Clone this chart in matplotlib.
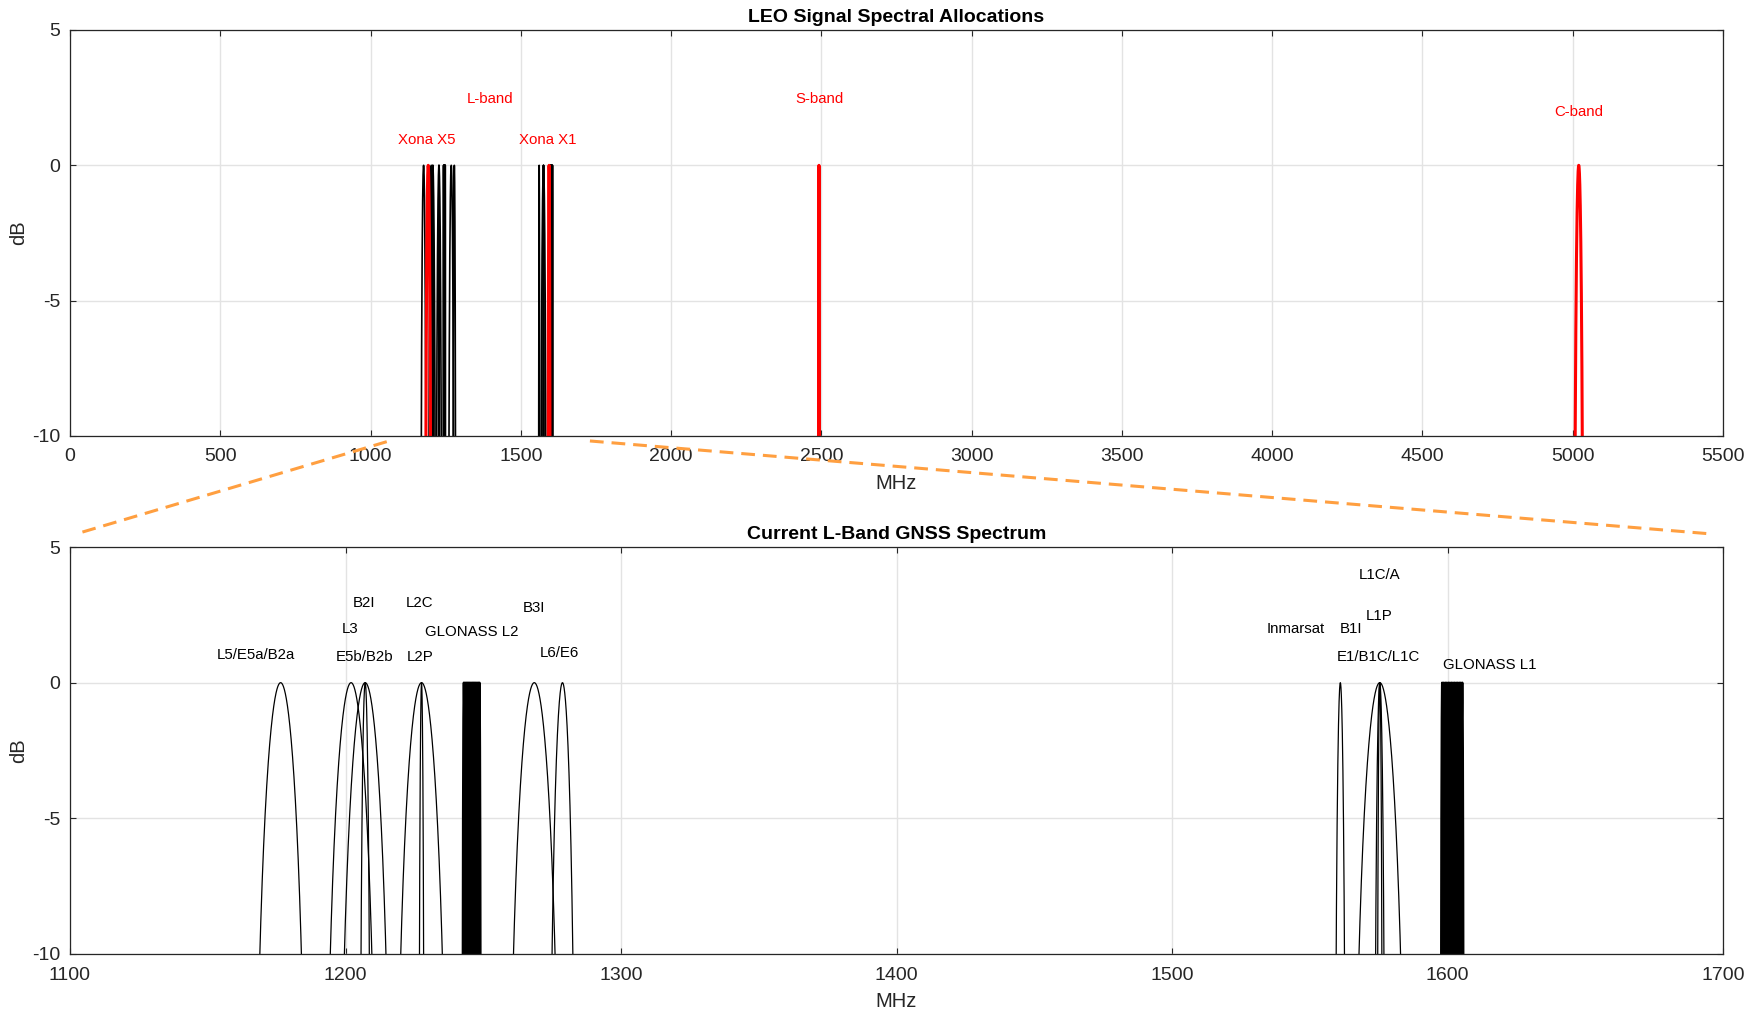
import numpy as np
import matplotlib
matplotlib.use("Agg")
import matplotlib.pyplot as plt
from matplotlib.lines import Line2D

plt.rcParams['font.family'] = ['Liberation Sans', 'DejaVu Sans']
plt.rcParams['axes.unicode_minus'] = False

# ---------------- data ----------------
# GNSS L-band signals: centre frequency (MHz), chip rate (MHz)
gnss_names = ["L5/E5a/B2a", "L3", "E5b/B2b", "B2I", "L2P", "L2C", "B3I", "L6/E6",
              "B1I", "L1P", "L1C/A", "E1/B1C/L1C"]
gnss_fc = [1176.45, 1202.025, 1207.14, 1207.14, 1227.60, 1227.60, 1268.52, 1278.75,
           1561.098, 1575.42, 1575.42, 1575.42]
gnss_rc = [10.23, 10.23, 10.23, 2.046, 10.23, 1.023, 10.23, 5.115,
           2.046, 10.23, 1.023, 2.046]

# GLONASS FDMA channels
glo_k = [-7, -6, -5, -4, -3, -2, -1, 0, 1, 2, 3, 4, 5, 6]
glo_l1_base, glo_l1_step = 1602.0, 0.5625
glo_l2_base, glo_l2_step = 1246.0, 0.4375
glo_rc = 0.511

# LEO signals (red)
leo_fc = [1191.795, 1594.0, 2492.0, 5020.0]
leo_rc = [10.23, 4.0, 1.0, 16.0]

# Labels: top panel
top_labels = ["L-band", "Xona X5", "Xona X1", "S-band", "C-band"]
top_lx = [1398, 1188, 1591, 2493, 5021]
top_ly = [2.45, 0.92, 0.92, 2.45, 1.96]

# Labels: bottom panel
bot_labels = ["L5/E5a/B2a", "L3", "B2I", "E5b/B2b", "L2C", "L2P", "GLONASS L2", "B3I",
              "L6/E6", "L1C/A", "L1P", "Inmarsat", "B1I", "E1/B1C/L1C", "GLONASS L1"]
bot_lx = [1167.6, 1201.6, 1206.8, 1206.8, 1226.8, 1227.0, 1245.7, 1268.5,
          1277.5, 1575.5, 1575.3, 1544.9, 1564.9, 1575.0, 1615.2]
bot_ly = [1.02, 1.97, 2.95, 0.93, 2.95, 0.93, 1.88, 2.74,
          1.08, 3.97, 2.46, 1.97, 1.97, 0.96, 0.65]

top_xticks = np.arange(0, 5501, 500)
bot_xticks = np.arange(1100, 1701, 100)
yticks = [-10, -5, 0, 5]


def psd(fc, rc, n=400):
    f = np.linspace(fc - 0.999 * rc, fc + 0.999 * rc, n)
    x = (f - fc) / rc
    return f, 10 * np.log10(np.sinc(x) ** 2 + 1e-12)


glo_fc = [glo_l2_base + k * glo_l2_step for k in glo_k] \
    + [glo_l1_base + k * glo_l1_step for k in glo_k]

# ---------------- figure ----------------
W, H = 1762, 1010
fig = plt.figure(figsize=(W / 100, H / 100), dpi=100)
ax1 = fig.add_axes([70 / W, 1 - 436 / H, (1723 - 70) / W, (436 - 30) / H])
ax2 = fig.add_axes([70 / W, 1 - 954 / H, (1723 - 70) / W, (954 - 547) / H])

axcol = '#262626'
for ax in (ax1, ax2):
    ax.set_ylim(-10, 5)
    ax.set_yticks(yticks)
    ax.grid(True, color='#e3e3e3', linewidth=1.0)
    ax.set_axisbelow(True)
    ax.tick_params(direction='in', length=4.5, width=0.8, top=True, right=True,
                   colors=axcol, labelsize=14, pad=7)
    ax.tick_params(axis='x', pad=9)
    for s in ax.spines.values():
        s.set_color(axcol)
        s.set_linewidth(0.9)
    ax.set_xlabel("MHz", fontsize=14.5, color=axcol, labelpad=6)
    ax.set_ylabel("dB", fontsize=14.5, color=axcol, labelpad=3)

# top panel
for fc, rc in zip(gnss_fc, gnss_rc):
    f, p = psd(fc, rc)
    ax1.plot(f, p, color='black', linewidth=1.2)
for fc in glo_fc:
    f, p = psd(fc, glo_rc)
    ax1.plot(f, p, color='black', linewidth=1.2)
for fc, rc in zip(leo_fc, leo_rc):
    f, p = psd(fc, rc)
    ax1.plot(f, p, color='red', linewidth=2.2)
ax1.set_xlim(0, 5500)
ax1.set_xticks(top_xticks)
ax1.set_title("LEO Signal Spectral Allocations", fontsize=14, fontweight='bold',
              color='black', pad=6)
for t, x, y in zip(top_labels, top_lx, top_ly):
    ax1.text(x, y, t, color='red', fontsize=10.8, ha='center', va='center')

# bottom panel
for fc, rc in zip(gnss_fc, gnss_rc):
    f, p = psd(fc, rc)
    ax2.plot(f, p, color='black', linewidth=0.9)
for fc in glo_fc:
    f, p = psd(fc, glo_rc)
    ax2.plot(f, p, color='black', linewidth=1.6)
ax2.set_xlim(1100, 1700)
ax2.set_xticks(bot_xticks)
ax2.set_title("Current L-Band GNSS Spectrum", fontsize=14, fontweight='bold',
              color='black', pad=6)
for t, x, y in zip(bot_labels, bot_lx, bot_ly):
    ax2.text(x, y, t, color='black', fontsize=10.8, ha='center', va='center')

# orange zoom connector lines (figure fractions)
zoom_lines = [((0.2195, 0.0431), (0.5627, 0.4713)),
              ((0.3348, 0.9695), (0.5634, 0.4716))]
for xs, ys in zoom_lines:
    ln = Line2D(xs, ys, transform=fig.transFigure, color='#FF9F40', linewidth=2.2,
                linestyle=(0, (4.5, 2.6)))
    fig.add_artist(ln)

fig.savefig("out.png", dpi=100, facecolor='white')
